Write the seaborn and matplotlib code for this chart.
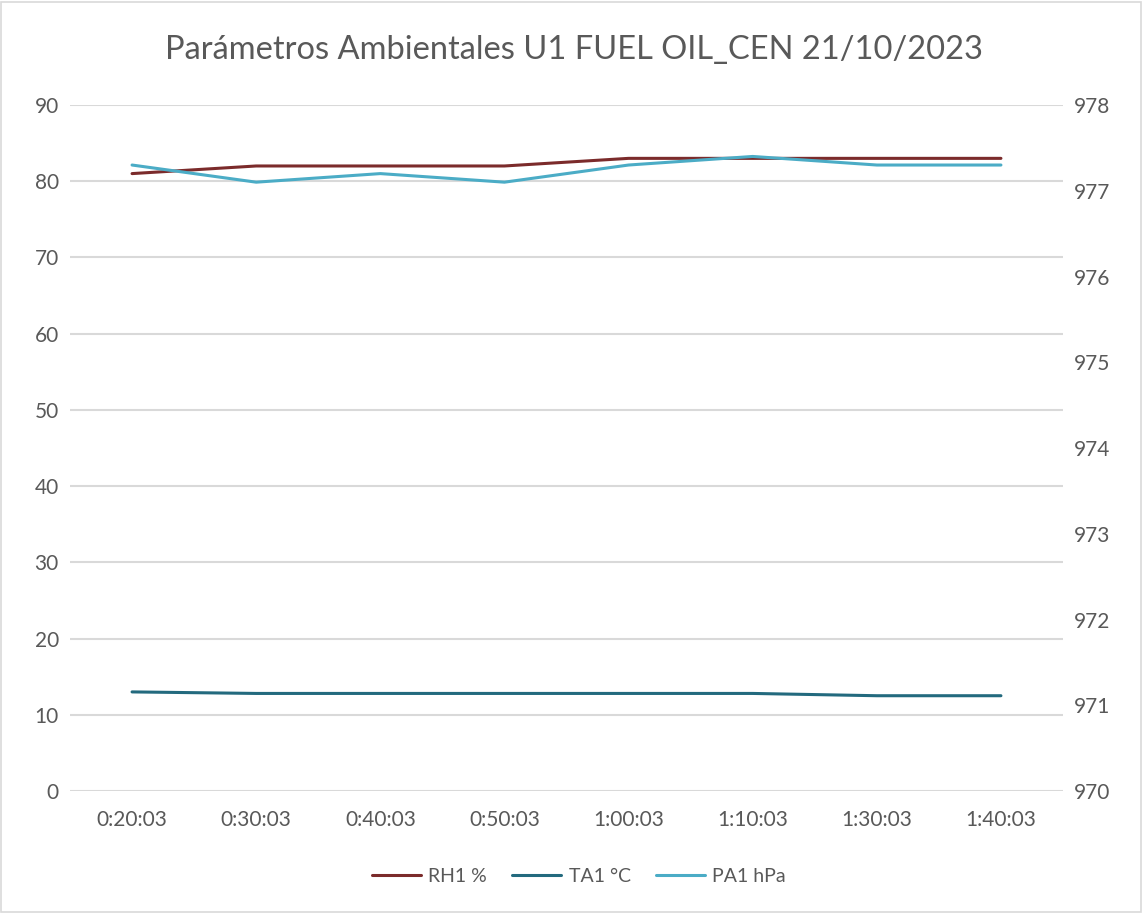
import numpy as np
import pandas as pd
import matplotlib
matplotlib.use("Agg")
import matplotlib.pyplot as plt
import seaborn as sns
from matplotlib.patches import Rectangle
from matplotlib.lines import Line2D

times = ["0:20:03", "0:30:03", "0:40:03", "0:50:03", "1:00:03", "1:10:03", "1:30:03", "1:40:03"]
rh1 = [81, 82, 82, 82, 83, 83, 83, 83]
ta1 = [13.0, 12.8, 12.8, 12.8, 12.8, 12.8, 12.5, 12.5]
pa1 = [977.3, 977.1, 977.2, 977.1, 977.3, 977.4, 977.3, 977.3]

c_rh = "#7B2B2B"
c_ta = "#236A7E"
c_pa = "#4BACC6"
txt = "#595959"

sns.set_theme(style="white")
plt.rcParams['font.family'] = ['Lato', 'DejaVu Sans']

fig = plt.figure(figsize=(11.43, 9.13), dpi=100)
ax = fig.add_axes([70/1143, 1 - 791/913, (1063-70)/1143, (791-105)/913])
ax2 = ax.twinx()

df = pd.DataFrame({"i": np.arange(len(times)), "rh": rh1, "ta": ta1, "pa": pa1})
sns.lineplot(data=df, x="i", y="rh", ax=ax, color=c_rh, linewidth=2.2)
sns.lineplot(data=df, x="i", y="ta", ax=ax, color=c_ta, linewidth=2.2)
sns.lineplot(data=df, x="i", y="pa", ax=ax2, color=c_pa, linewidth=2.2)

ax.set_ylim(0, 90)
ax.set_yticks(np.arange(0, 91, 10))
ax2.set_ylim(970, 978)
ax2.set_yticks(np.arange(970, 979, 1))
ax.set_xlim(-0.5, len(times) - 0.5)
ax.set_xticks(range(len(times)))
ax.set_xticklabels(times)
ax.yaxis.grid(True, color="#D9D9D9", linewidth=1.5)
ax.set_axisbelow(True)
for a in (ax, ax2):
    for s in a.spines.values():
        s.set_visible(False)
    a.set_xlabel("")
    a.set_ylabel("")
    a.tick_params(length=0, labelsize=15, colors=txt)
ax.tick_params(axis="y", pad=8)
ax2.tick_params(axis="y", pad=8)
ax.tick_params(axis="x", pad=14)

fig.text(574/1143, 1 - 50/913, "Parámetros Ambientales U1 FUEL OIL_CEN 21/10/2023",
         ha="center", va="center", fontsize=23.5, color=txt)

handles = [Line2D([], [], color=c_rh, lw=2.2), Line2D([], [], color=c_ta, lw=2.2),
           Line2D([], [], color=c_pa, lw=2.2)]
fig.legend(handles, ["RH1 %", "TA1 °C", "PA1 hPa"], loc="center",
           bbox_to_anchor=(579/1143, 1 - 876/913), ncol=3, frameon=False,
           fontsize=14, labelcolor=txt, handlelength=2.5, columnspacing=1.3, handletextpad=0.4)

fig.add_artist(Rectangle((1/1143, 1/913), 1 - 3/1143, 1 - 3/913, transform=fig.transFigure,
                         fill=False, edgecolor="#D9D9D9", linewidth=1.2))
fig.savefig("out.png", dpi=100, facecolor="white")
